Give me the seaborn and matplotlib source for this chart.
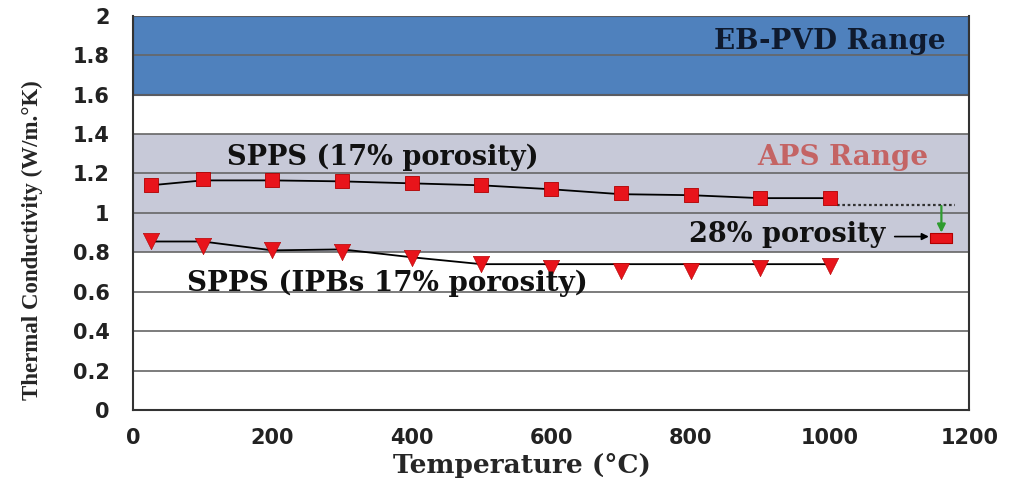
import numpy as np
import pandas as pd
import matplotlib
matplotlib.use("Agg")
import matplotlib.pyplot as plt
from matplotlib.path import Path
import seaborn as sns

# Measured thermal conductivity vs temperature
temps = [25, 100, 200, 300, 400, 500, 600, 700, 800, 900, 1000]
spps_17 = [1.14, 1.17, 1.165, 1.16, 1.15, 1.14, 1.12, 1.10, 1.09, 1.075, 1.075]
spps_ipb = [0.86, 0.83, 0.81, 0.80, 0.77, 0.74, 0.72, 0.705, 0.705, 0.72, 0.73]
# Smoothed trend curves drawn through each series
trend_17 = [1.14, 1.165, 1.165, 1.16, 1.15, 1.14, 1.12, 1.095, 1.09, 1.075, 1.075]
trend_ipb = [0.855, 0.855, 0.81, 0.815, 0.775, 0.74, 0.74, 0.74, 0.74, 0.74, 0.74]

# 28 % porosity coating
porous_temp = [1160]
porous_k = [0.873]
ref_level = 1.04

# Property ranges of competing processes
ebpvd_range = (1.6, 2.0)
aps_range = (0.8, 1.4)

x_ticks = [0, 200, 400, 600, 800, 1000, 1200]
y_ticks = [0, 0.2, 0.4, 0.6, 0.8, 1.0, 1.2, 1.4, 1.6, 1.8, 2.0]
y_tick_labels = ["0", "0.2", "0.4", "0.6", "0.8", "1", "1.2", "1.4", "1.6", "1.8", "2"]

sns.set_theme(style="white")
plt.rcParams["font.family"] = ["DejaVu Sans"]

fig = plt.figure(figsize=(10.16, 4.79), dpi=100)
ax = fig.add_axes([0.131, 0.144, 0.823, 0.823])

red = "#E8141B"
dark_red = "#B00000"

ax.axhspan(*ebpvd_range, facecolor="#4F81BD", edgecolor="#1F2F4F", linewidth=1.5, zorder=0.2)
ax.axhspan(*aps_range, facecolor="#C7C9D8", edgecolor="none", zorder=0.1)

ax.set_axisbelow(True)
ax.grid(axis="y", color="#666666", linewidth=1.2, zorder=0.5)
ax.grid(axis="x", visible=False)

df = pd.DataFrame({"T": temps, "k17": spps_17, "kipb": spps_ipb,
                   "t17": trend_17, "tipb": trend_ipb})

sns.lineplot(data=df, x="T", y="t17", color="black", linewidth=1.3, ax=ax, zorder=2)
sns.lineplot(data=df, x="T", y="tipb", color="black", linewidth=1.3, ax=ax, zorder=2)
sns.scatterplot(data=df, x="T", y="k17", marker="s", s=100, color=red,
                edgecolor=dark_red, linewidth=0.6, ax=ax, zorder=3)
sns.scatterplot(data=df, x="T", y="kipb", marker="v", s=140, color=red,
                edgecolor=dark_red, linewidth=0.4, ax=ax, zorder=3)

# Wide flat rectangle marker for the porous coating
rect = Path([(-1.0, -0.45), (1.0, -0.45), (1.0, 0.45), (-1.0, 0.45), (-1.0, -0.45)],
            [Path.MOVETO, Path.LINETO, Path.LINETO, Path.LINETO, Path.CLOSEPOLY])
sns.scatterplot(x=porous_temp, y=porous_k, marker=rect, s=260, color=red,
                edgecolor=dark_red, linewidth=0.8, ax=ax, zorder=3)

# Dotted reference at the 17 % porosity level and drop arrow
ax.plot([1010, 1180], [ref_level, ref_level], linestyle=(0, (1.2, 1.2)),
        color="#333333", linewidth=1.6, zorder=2)
ax.annotate("", xy=(porous_temp[0], 0.90), xytext=(porous_temp[0], ref_level - 0.005),
            arrowprops=dict(arrowstyle="-|>", color="#2E9B2E", lw=1.6,
                            mutation_scale=12, shrinkA=0, shrinkB=0), zorder=4)
ax.annotate("", xy=(1142, 0.88), xytext=(1093, 0.88),
            arrowprops=dict(arrowstyle="-|>", color="black", lw=1.2,
                            mutation_scale=10, shrinkA=0, shrinkB=0), zorder=4)

serif = ["DejaVu Serif"]
ax.text(1000, 1.87, "EB-PVD Range", fontsize=20, fontweight="bold", family=serif,
        color="#0F1A2E", ha="center", va="center", zorder=5)
ax.text(1019, 1.28, "APS Range", fontsize=20, fontweight="bold", family=serif,
        color="#C46464", ha="center", va="center", zorder=5)
ax.text(359, 1.28, "SPPS (17% porosity)", fontsize=19.5, fontweight="bold", family=serif,
        color="#111111", ha="center", va="center", zorder=5)
ax.text(365, 0.645, "SPPS (IPBs 17% porosity)", fontsize=20, fontweight="bold", family=serif,
        color="#111111", ha="center", va="center", zorder=5)
ax.text(1080, 0.89, "28% porosity", fontsize=19.5, fontweight="bold", family=serif,
        color="#111111", ha="right", va="center", zorder=5)

ax.set_xlim(0, 1200)
ax.set_ylim(0, 2)
ax.set_xticks(x_ticks)
ax.set_xticklabels([str(t) for t in x_ticks])
ax.set_yticks(y_ticks)
ax.set_yticklabels(y_tick_labels)

ax.tick_params(axis="both", labelsize=15, colors="black", width=1.3)
for lbl in ax.get_xticklabels() + ax.get_yticklabels():
    lbl.set_fontweight("bold")
    lbl.set_color("#222222")
ax.tick_params(axis="y", direction="out", length=7, pad=10)
ax.tick_params(axis="x", direction="in", length=7, pad=13)

for side in ["left", "bottom", "right", "top"]:
    ax.spines[side].set_visible(True)
    ax.spines[side].set_color("#333333")
    ax.spines[side].set_linewidth(1.5)
ax.spines["top"].set_visible(False)

ax.set_xlabel("Temperature (\u00b0C)", fontsize=19, fontweight="bold", family=serif)
ax.xaxis.set_label_coords(0.465, -0.11)
ax.set_ylabel("Thermal Conductivity (W/m.\u00b0K)", fontsize=16.5, fontweight="bold",
              family=["Liberation Serif"])
ax.yaxis.set_label_coords(-0.108, 0.43)

fig.savefig("out.png", dpi=100)
